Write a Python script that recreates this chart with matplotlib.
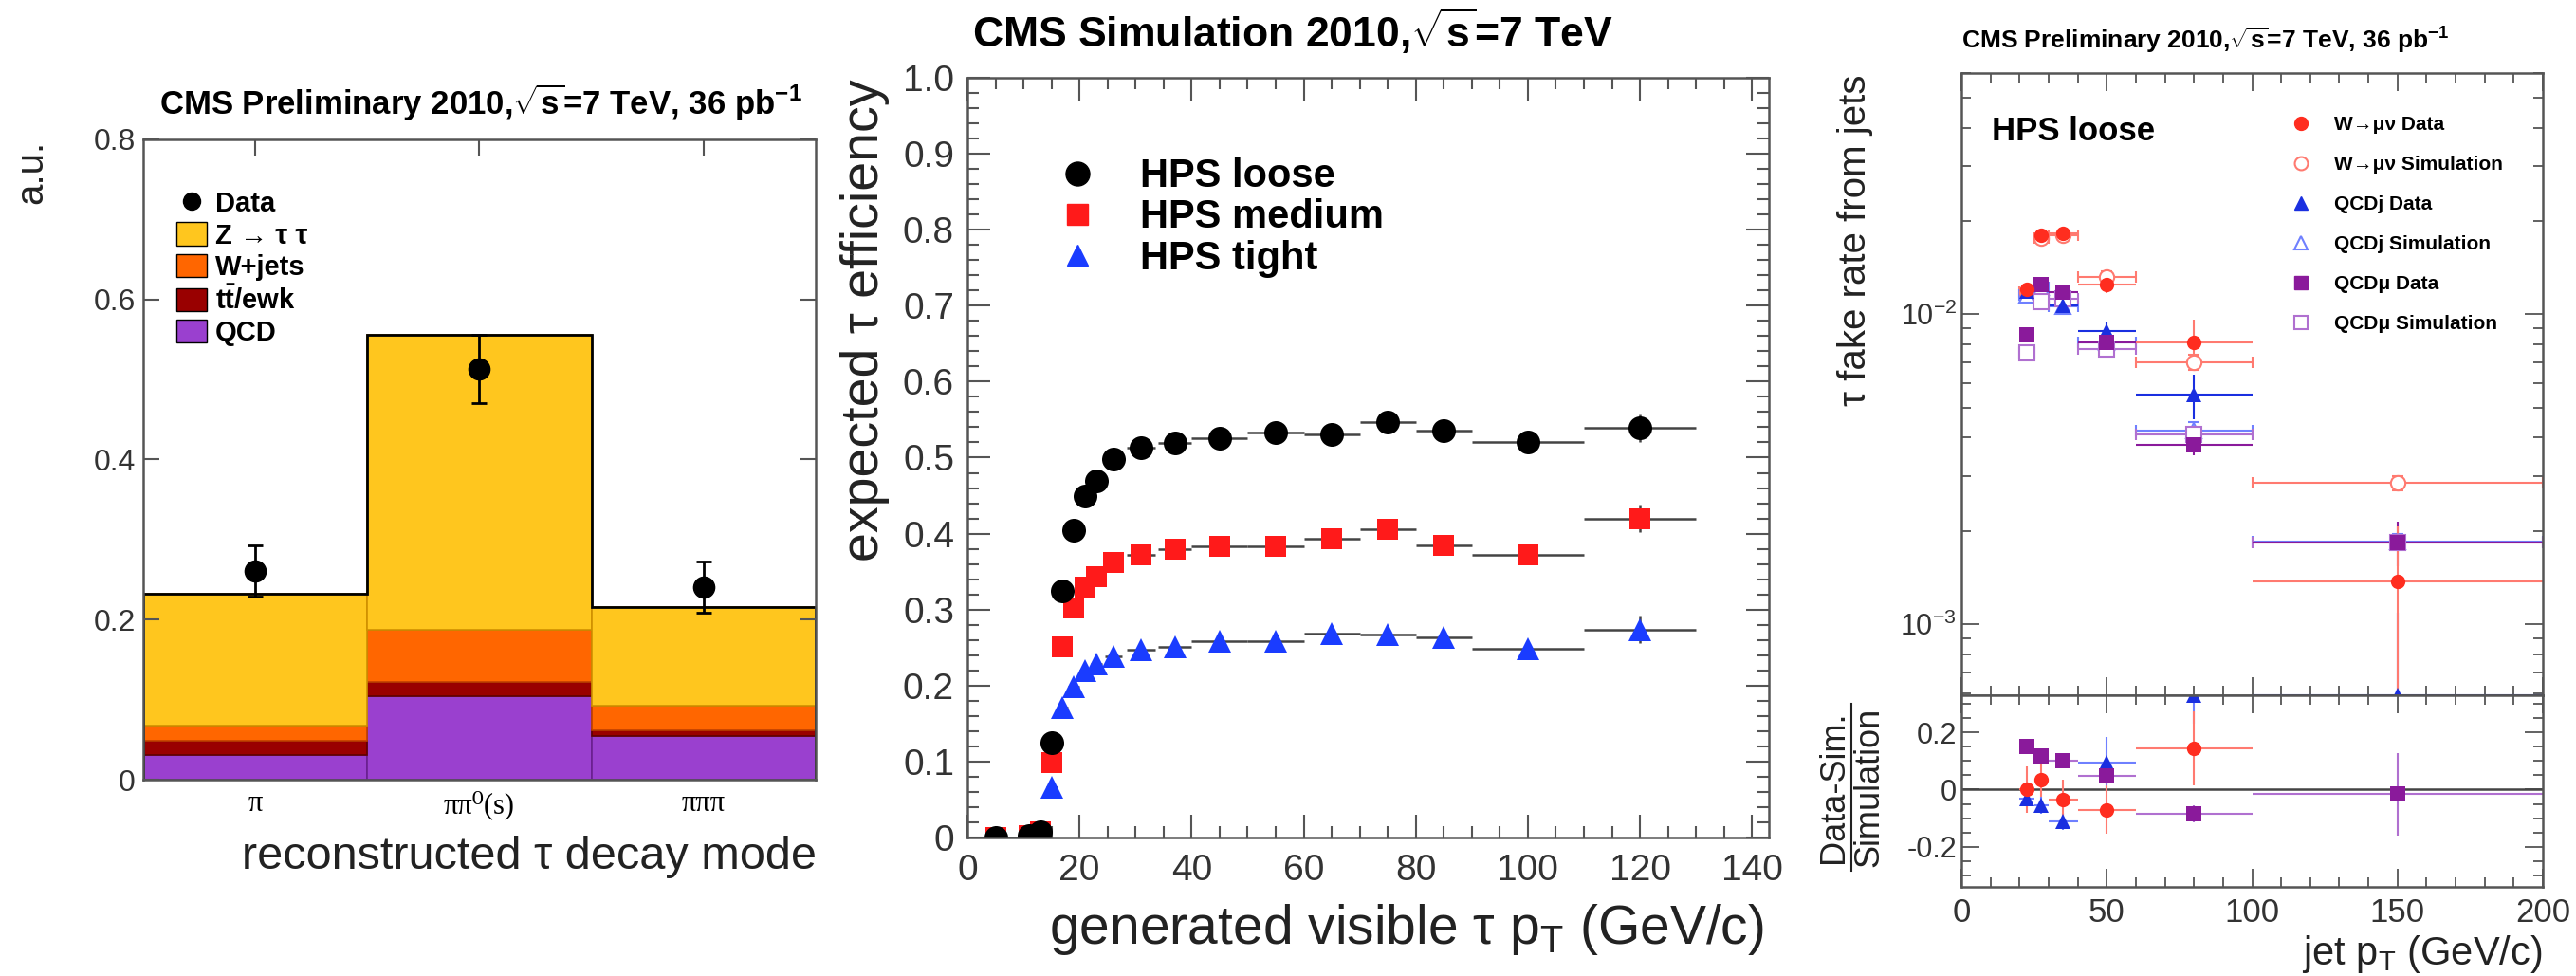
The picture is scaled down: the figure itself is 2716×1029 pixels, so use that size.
import numpy as np
import matplotlib.pyplot as plt
from matplotlib.ticker import MultipleLocator, FuncFormatter, NullFormatter, LogLocator
from matplotlib.lines import Line2D
from matplotlib.patches import Patch

plt.rcParams['font.family'] = ['Liberation Sans', 'DejaVu Sans']
plt.rcParams['mathtext.fontset'] = 'custom'
plt.rcParams['mathtext.rm'] = 'Liberation Sans'
plt.rcParams['mathtext.it'] = 'Liberation Sans:italic'
plt.rcParams['mathtext.bf'] = 'Liberation Sans:bold'

# ---- panel 1 : decay modes ----
modes = ['π', 'ππ⁰(s)', 'πππ']
qcd = [0.031, 0.104, 0.054]
ttbar = [0.018, 0.018, 0.008]
wjets = [0.019, 0.065, 0.030]
ztt = [0.164, 0.369, 0.124]
data1 = [0.261, 0.513, 0.241]
data1_err = [0.032, 0.043, 0.032]

# ---- panel 2 : efficiency ----
gen_pt = [5, 11, 13, 15, 17, 19, 21, 23, 26, 31, 37, 45, 55, 65, 75, 85, 100, 120]
gen_pt_err = [5, 1, 1, 1, 1, 1, 1, 1, 1.5, 2.5, 3, 5, 5, 5, 5, 5, 10, 10]
eff_loose = [0.0, 0.002, 0.008, 0.125, 0.325, 0.405, 0.449, 0.469, 0.498, 0.513, 0.519,
             0.525, 0.533, 0.531, 0.547, 0.535, 0.520, 0.539]
eff_medium = [0.0, 0.002, 0.008, 0.099, 0.251, 0.302, 0.329, 0.343, 0.362, 0.372, 0.379,
              0.383, 0.383, 0.393, 0.406, 0.385, 0.372, 0.420]
eff_tight = [0.0, 0.0, 0.003, 0.066, 0.171, 0.198, 0.220, 0.228, 0.239, 0.247, 0.251,
             0.259, 0.259, 0.269, 0.267, 0.263, 0.249, 0.274]
eff_err = [0.003] * 17 + [0.018]

# ---- panel 3 : fake rate ----
jet_pt = [22.5, 27.5, 35, 50, 80, 150]
jet_pt_err = [2.5, 2.5, 5, 10, 20, 50]
wmu_data = [0.0120, 0.0180, 0.0182, 0.0125, 0.0081, 0.00137]
wmu_data_lo = [0.0006, 0.0009, 0.0009, 0.0008, 0.0012, 0.0008]
wmu_data_hi = [0.0006, 0.0009, 0.0009, 0.0008, 0.0015, 0.0007]
wmu_sim = [0.0118, 0.0176, 0.0180, 0.0132, 0.0070, 0.00285]
wmu_sim_err = [0.0004, 0.0006, 0.0006, 0.0006, 0.0004, 0.00015]
qcdj_data = [0.0119, 0.0125, 0.0107, 0.0088, 0.0055, 0.00059]
qcdj_data_err = [0.0005, 0.0005, 0.0005, 0.0006, 0.0009, 0.0005]
qcdj_sim = [0.0115, 0.0122, 0.0106, 0.0081, 0.0042, 0.00185]
qcdj_sim_err = [0.0004, 0.0004, 0.0004, 0.0004, 0.0003, 0.0001]
qcdmu_data = [0.0086, 0.0125, 0.0118, 0.0081, 0.0038, 0.00184]
qcdmu_data_err = [0.0004, 0.0005, 0.0005, 0.0004, 0.0003, 0.0003]
qcdmu_sim = [0.0075, 0.0110, 0.0112, 0.0077, 0.0041, 0.00184]
qcdmu_sim_err = [0.0003, 0.0004, 0.0004, 0.0003, 0.0002, 0.0001]

ratio_w = [0.0, 0.035, -0.036, -0.07, 0.145, np.nan]
ratio_w_err = [0.08, 0.06, 0.07, 0.085, 0.13, np.nan]
ratio_qcdj = [-0.033, -0.055, -0.11, 0.093, 0.33, np.nan]
ratio_qcdj_err = [0.03, 0.03, 0.03, 0.09, 0.1, np.nan]
ratio_qcdmu = [0.15, 0.117, 0.10, 0.047, -0.086, -0.016]
ratio_qcdmu_err = [0.02, 0.02, 0.02, 0.03, 0.03, 0.145]

W, H = 2716, 1029
fig = plt.figure(figsize=(W / 100, H / 100), dpi=100)


def box(l, t, r, b):
    return [l / W, 1 - b / H, (r - l) / W, (b - t) / H]


def ftext(x, y, s, **kw):
    return fig.text(x / W, 1 - y / H, s, **kw)


frame_col = '#555555'
tick_col = '#333333'
label_col = '#222222'


def style_frame(ax):
    for sp in ax.spines.values():
        sp.set_color(frame_col)
        sp.set_linewidth(1.8)


zero_fmt = FuncFormatter(lambda v, p: '0' if abs(v) < 1e-9 else f'{v:.1f}')

# ================= panel 1 =================
ax1 = fig.add_axes(box(151, 147, 860, 822))
x1 = np.arange(len(modes))
b1 = np.zeros(3)
for vals, col, ec in [(qcd, '#9a40cf', '#6a2090'), (ttbar, '#990000', '#600000'),
                      (wjets, '#ff6600', '#c04000'), (ztt, '#ffc61e', '#d09000')]:
    ax1.bar(x1, vals, width=1.0, bottom=b1, color=col, edgecolor=ec, linewidth=1.2)
    b1 = b1 + np.array(vals)
ax1.stairs(b1, np.arange(4) - 0.5, color='black', linewidth=2)
ax1.errorbar(x1, data1, yerr=data1_err, fmt='o', color='black', ms=16, capsize=6,
             elinewidth=2, capthick=2)
ax1.set_xlim(-0.5, 2.5)
ax1.set_ylim(0, 0.8)
ax1.set_xticks(x1)
ax1.set_xticklabels(modes, family=['Liberation Serif', 'DejaVu Serif'], fontsize=22)
ax1.yaxis.set_major_locator(MultipleLocator(0.2))
ax1.yaxis.set_major_formatter(zero_fmt)
ax1.tick_params(axis='x', bottom=False, top=True, direction='in', length=12, width=1.5,
                color=frame_col, pad=8)
ax1.tick_params(axis='y', left=True, right=True, direction='in', length=12, width=1.5,
                color=frame_col, labelsize=23, labelcolor=tick_col, pad=6)
style_frame(ax1)
h1 = [Line2D([], [], marker='o', color='black', ls='none', ms=13),
      Patch(facecolor='#ffc61e', edgecolor='black'),
      Patch(facecolor='#ff6600', edgecolor='black'),
      Patch(facecolor='#990000', edgecolor='black'),
      Patch(facecolor='#9a40cf', edgecolor='black')]
l1 = ['Data', 'Z → τ τ', 'W+jets', r'$\mathbf{t\bar{t}}$/ewk', 'QCD']
ax1.legend(h1, l1, loc='upper left', bbox_to_anchor=(0.049, 0.92), frameon=False,
           borderaxespad=0, borderpad=0, handlelength=1.1, handleheight=0.9,
           handletextpad=0.3, labelspacing=0.18, prop={'weight': 'bold', 'size': 21})
ftext(507, 108, r'CMS Preliminary 2010,$\sqrt{\mathregular{s}}$=7 TeV, 36 pb$^{\mathregular{-1}}$',
      ha='center', va='center', fontsize=25, weight='bold')
ftext(33, 148, 'a.u.', rotation=90, ha='center', va='top', fontsize=29, color=label_col)
ftext(861, 903, 'reconstructed τ decay mode', ha='right', va='center', fontsize=35,
      color=label_col)

# ================= panel 2 =================
ax2 = fig.add_axes(box(1020, 82, 1865, 883))
for vals, mk, col, ms in [(eff_tight, '^', '#1a3cff', 17), (eff_medium, 's', '#ff1a1a', 16),
                          (eff_loose, 'o', 'black', 18)]:
    ax2.errorbar(gen_pt, vals, xerr=gen_pt_err, yerr=eff_err, fmt=mk, color=col, ms=ms,
                 ecolor='#444444', elinewidth=1.8, capsize=5, capthick=1.5, mew=0)
ax2.set_xlim(0, 143)
ax2.set_ylim(0, 1)
ax2.xaxis.set_major_locator(MultipleLocator(20))
ax2.xaxis.set_minor_locator(MultipleLocator(5))
ax2.yaxis.set_major_locator(MultipleLocator(0.1))
ax2.yaxis.set_minor_locator(MultipleLocator(0.02))
ax2.yaxis.set_major_formatter(zero_fmt)
ax2.tick_params(which='both', direction='in', top=True, right=True, color=frame_col,
                width=1.5, labelcolor=tick_col, labelsize=28)
ax2.tick_params(which='major', length=17)
ax2.tick_params(which='minor', length=8.5)
ax2.tick_params(axis='x', pad=12)
ax2.tick_params(axis='y', pad=10)
style_frame(ax2)
h2 = [Line2D([], [], marker='o', color='black', ls='none', ms=18),
      Line2D([], [], marker='s', color='#ff1a1a', ls='none', ms=16),
      Line2D([], [], marker='^', color='#1a3cff', ls='none', ms=16)]
ax2.legend(h2, ['HPS loose', 'HPS medium', 'HPS tight'], loc='upper left',
           bbox_to_anchor=(0.105, 0.895), frameon=False, borderaxespad=0, borderpad=0,
           handlelength=1.3, handletextpad=0.95, labelspacing=0.08,
           prop={'weight': 'bold', 'size': 30})
ftext(1363, 33, r'CMS Simulation 2010,$\sqrt{\mathregular{s}}$=7 TeV', ha='center',
      va='center', fontsize=32, weight='bold')
ftext(912, 84, 'expected τ efficiency', rotation=90, ha='center', va='top', fontsize=40,
      color=label_col)
ftext(1860, 980, r'generated visible τ p$_\mathregular{T}$ (GeV/c)', ha='right',
      va='center', fontsize=41, color=label_col)

# ================= panel 3 =================
ax3 = fig.add_axes(box(2068, 77, 2681, 733))
ax4 = fig.add_axes(box(2068, 733, 2681, 935), sharex=ax3)

red, red_l = '#ff2d1f', '#ff7a70'
blue, blue_l = '#1a2fe0', '#6f80ff'
purp, purp_l = '#8a1a9b', '#b070d0'

ekw = dict(elinewidth=1.5, capsize=4, capthick=1.2)
ax3.errorbar(jet_pt, wmu_sim, xerr=jet_pt_err, yerr=wmu_sim_err, fmt='o', ms=11,
             mfc='white', mec=red_l, mew=1.5, ecolor=red_l, **ekw)
ax3.errorbar(jet_pt, qcdj_sim, xerr=jet_pt_err, yerr=qcdj_sim_err, fmt='^', ms=11,
             mfc='white', mec=blue_l, mew=1.5, ecolor=blue_l, **ekw)
ax3.errorbar(jet_pt, qcdmu_sim, xerr=jet_pt_err, yerr=qcdmu_sim_err, fmt='s', ms=11,
             mfc='white', mec=purp_l, mew=1.5, ecolor=purp_l, **ekw)
ax3.errorbar(jet_pt, qcdj_data, xerr=jet_pt_err, yerr=qcdj_data_err, fmt='^', ms=11,
             color=blue, ecolor=blue, mew=0, **ekw)
ax3.errorbar(jet_pt, qcdmu_data, xerr=jet_pt_err, yerr=qcdmu_data_err, fmt='s', ms=11,
             color=purp, ecolor=purp, mew=0, **ekw)
ax3.errorbar(jet_pt, wmu_data, xerr=jet_pt_err, yerr=[wmu_data_lo, wmu_data_hi], fmt='o',
             ms=11, color=red, ecolor=red_l, mew=0, **ekw)
ax3.set_yscale('log')
ax3.set_ylim(5.9e-4, 0.060)
ax3.set_xlim(0, 200)
ax3.yaxis.set_major_locator(LogLocator(base=10))
ax3.yaxis.set_minor_locator(LogLocator(base=10, subs=np.arange(2, 10)))
ax3.yaxis.set_minor_formatter(NullFormatter())
ax3.tick_params(axis='x', labelbottom=False)
ax3.tick_params(which='both', direction='in', top=True, right=True, bottom=True,
                color=frame_col, width=1.3, labelcolor=tick_col, labelsize=22)
ax3.tick_params(which='major', length=14)
ax3.tick_params(which='minor', length=7)
style_frame(ax3)

ax4.axhline(0, color='#444444', lw=1.8)
ax4.errorbar(jet_pt, ratio_qcdj, xerr=jet_pt_err, yerr=ratio_qcdj_err, fmt='^', ms=11,
             color=blue, ecolor=blue_l, mew=0, **ekw)
ax4.errorbar(jet_pt, ratio_qcdmu, xerr=jet_pt_err, yerr=ratio_qcdmu_err, fmt='s', ms=11,
             color=purp, ecolor=purp_l, mew=0, **ekw)
ax4.errorbar(jet_pt, ratio_w, xerr=jet_pt_err, yerr=ratio_w_err, fmt='o', ms=11,
             color=red, ecolor=red_l, mew=0, **ekw)
ax4.set_ylim(-0.34, 0.33)
ax4.xaxis.set_major_locator(MultipleLocator(50))
ax4.xaxis.set_minor_locator(MultipleLocator(10))
ax4.yaxis.set_major_locator(MultipleLocator(0.2))
ax4.yaxis.set_minor_locator(MultipleLocator(0.05))
ax4.yaxis.set_major_formatter(zero_fmt)
ax4.tick_params(which='both', direction='in', top=True, right=True, color=frame_col,
                width=1.3, labelcolor=tick_col, labelsize=22)
ax4.tick_params(which='major', length=14)
ax4.tick_params(which='minor', length=7)
ax4.tick_params(axis='x', labelsize=25, pad=8)
style_frame(ax4)

h3 = [Line2D([], [], marker='o', color=red, ls='none', ms=10),
      Line2D([], [], marker='o', mfc='white', mec=red_l, mew=1.5, ls='none', ms=10),
      Line2D([], [], marker='^', color=blue, ls='none', ms=10),
      Line2D([], [], marker='^', mfc='white', mec=blue_l, mew=1.5, ls='none', ms=10),
      Line2D([], [], marker='s', color=purp, ls='none', ms=10),
      Line2D([], [], marker='s', mfc='white', mec=purp_l, mew=1.5, ls='none', ms=10)]
l3 = ['W→μν Data', 'W→μν Simulation', 'QCDj Data', 'QCDj Simulation', 'QCDμ Data',
      'QCDμ Simulation']
ax3.legend(h3, l3, loc='upper left', bbox_to_anchor=(0.563, 0.931), frameon=False,
           borderaxespad=0, borderpad=0, handlelength=1.2, handletextpad=1.1,
           labelspacing=1.1, prop={'weight': 'bold', 'size': 15})
ftext(2100, 138, 'HPS loose', ha='left', va='center', fontsize=25, weight='bold')
ftext(2068, 43, r'CMS Preliminary 2010,$\sqrt{\mathregular{s}}$=7 TeV, 36 pb$^{\mathregular{-1}}$',
      ha='left', va='center', fontsize=19, weight='bold')
ftext(1956, 78, 'τ fake rate from jets', rotation=90, ha='center', va='top', fontsize=29,
      color=label_col)
# ratio axis label drawn as a stacked fraction
ftext(1934, 830, 'Data-Sim.', rotation=90, ha='center', va='center', fontsize=26,
      color=label_col)
ftext(1971, 830, 'Simulation', rotation=90, ha='center', va='center', fontsize=26,
      color=label_col)
fig.add_artist(Line2D([1952 / W, 1952 / W], [1 - 742 / H, 1 - 918 / H], color=label_col,
                      lw=1.5))
ftext(2680, 1006, r'jet p$_\mathregular{T}$ (GeV/c)', ha='right', va='center', fontsize=30,
      color=label_col)

fig.savefig('out.png', dpi=100)
